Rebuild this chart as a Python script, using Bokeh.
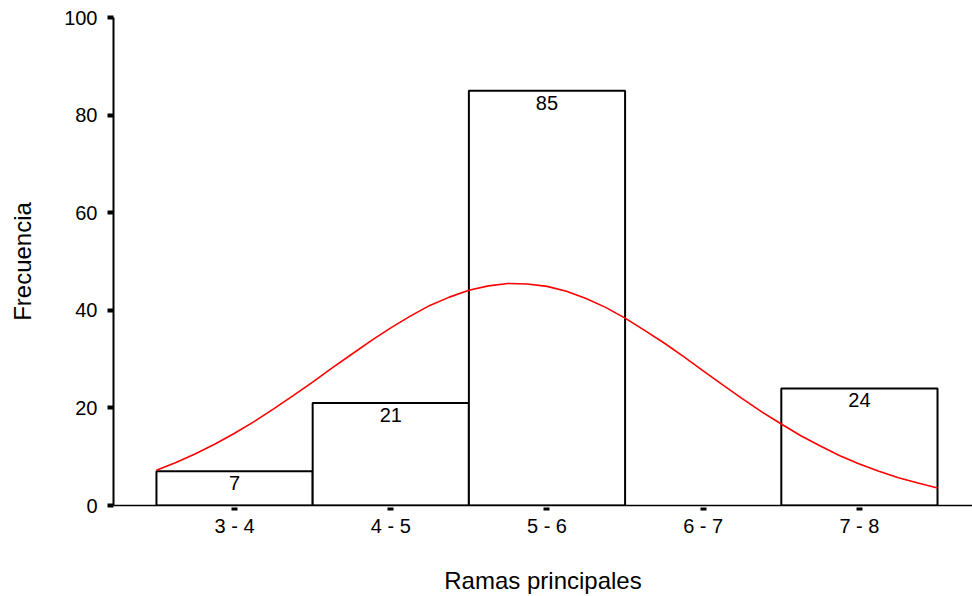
from bokeh.plotting import figure
from bokeh.models import Range1d, ColumnDataSource, FixedTicker
from bokeh.core.properties import value
from bokeh.embed import file_html
from bokeh.resources import INLINE

# Histogram data
bin_labels = ["3 - 4", "4 - 5", "5 - 6", "6 - 7", "7 - 8"]
bin_left = [3, 4, 5, 6, 7]
bin_right = [4, 5, 6, 7, 8]
counts = [7, 21, 85, 0, 24]

# Normal curve
curve_x = [3.0, 3.125, 3.25, 3.375, 3.5, 3.625, 3.75, 3.875, 4.0, 4.125,
           4.25, 4.375, 4.5, 4.625, 4.75, 4.875, 5.0, 5.125, 5.25, 5.375,
           5.5, 5.625, 5.75, 5.875, 6.0, 6.125, 6.25, 6.375, 6.5, 6.625,
           6.75, 6.875, 7.0, 7.125, 7.25, 7.375, 7.5, 7.625, 7.75, 7.875, 8.0]
curve_y = [7.2, 8.8, 10.6, 12.6, 14.8, 17.2, 19.8, 22.5, 25.3, 28.2,
           31.0, 33.8, 36.4, 38.8, 41.0, 42.7, 44.1, 45.0, 45.5, 45.4,
           44.9, 43.9, 42.4, 40.6, 38.4, 35.9, 33.3, 30.5, 27.6, 24.7,
           21.9, 19.2, 16.7, 14.3, 12.2, 10.2, 8.5, 7.0, 5.7, 4.6, 3.6]

y_ticks = [0, 20, 40, 60, 80, 100]

FONT = "Liberation Sans"

p = figure(width=972, height=596, output_backend="svg", toolbar_location=None,
           x_range=Range1d(2.725, 8.224), y_range=Range1d(0, 100),
           min_border_left=113, min_border_right=0, min_border_top=17,
           min_border_bottom=89)
p.outline_line_color = None
p.xgrid.grid_line_color = None
p.ygrid.grid_line_color = None
p.background_fill_color = "white"
p.border_fill_color = "white"

centers = [(l + r) / 2 for l, r in zip(bin_left, bin_right)]
nonzero = [i for i, c in enumerate(counts) if c > 0]
src = ColumnDataSource(dict(
    left=[bin_left[i] for i in nonzero],
    right=[bin_right[i] for i in nonzero],
    top=[counts[i] for i in nonzero],
    x=[centers[i] for i in nonzero],
    lab=[str(counts[i]) for i in nonzero],
))

p.quad(left="left", right="right", bottom=0, top="top", source=src,
       fill_color="white", line_color="black", line_width=2)
p.text(x="x", y="top", text="lab", source=src, text_align="center",
       text_baseline="top", y_offset=5, text_font_size="20px",
       text_font=value(FONT), text_color="black")

p.line(curve_x, curve_y, line_color="#ff0000", line_width=1.6)

# X axis
p.xaxis.ticker = FixedTicker(ticks=centers)
p.xaxis.major_label_overrides = {c: lab for c, lab in zip(centers, bin_labels)}
p.xaxis.minor_tick_line_color = None
p.xaxis.major_tick_in = -2
p.xaxis.major_tick_out = 5
p.xaxis.major_tick_line_width = 6
p.xaxis.axis_line_width = 1.5
p.xaxis.major_label_standoff = 4
p.xaxis.major_label_text_font = FONT
p.xaxis.major_label_text_font_size = "20px"
p.xaxis.axis_label = "Ramas principales"
p.xaxis.axis_label_text_font = FONT
p.xaxis.axis_label_text_font_size = "24px"
p.xaxis.axis_label_text_font_style = "normal"
p.xaxis.axis_label_standoff = 27

# Y axis
p.yaxis.ticker = FixedTicker(ticks=y_ticks)
p.yaxis.minor_tick_line_color = None
p.yaxis.major_tick_in = 0
p.yaxis.major_tick_out = 6
p.yaxis.major_tick_line_width = 4
p.yaxis.axis_line_width = 2
p.yaxis.major_label_standoff = 10
p.yaxis.major_label_text_font = FONT
p.yaxis.major_label_text_font_size = "20px"
p.yaxis.axis_label = "Frecuencia"
p.yaxis.axis_label_text_font = FONT
p.yaxis.axis_label_text_font_size = "24px"
p.yaxis.axis_label_text_font_style = "normal"
p.yaxis.axis_label_standoff = 25

for ax in (p.xaxis, p.yaxis):
    ax.axis_line_color = "black"
    ax.major_tick_line_color = "black"
    ax.major_label_text_color = "black"
    ax.axis_label_text_color = "black"

open("out.html", "w").write(file_html(p, INLINE))
